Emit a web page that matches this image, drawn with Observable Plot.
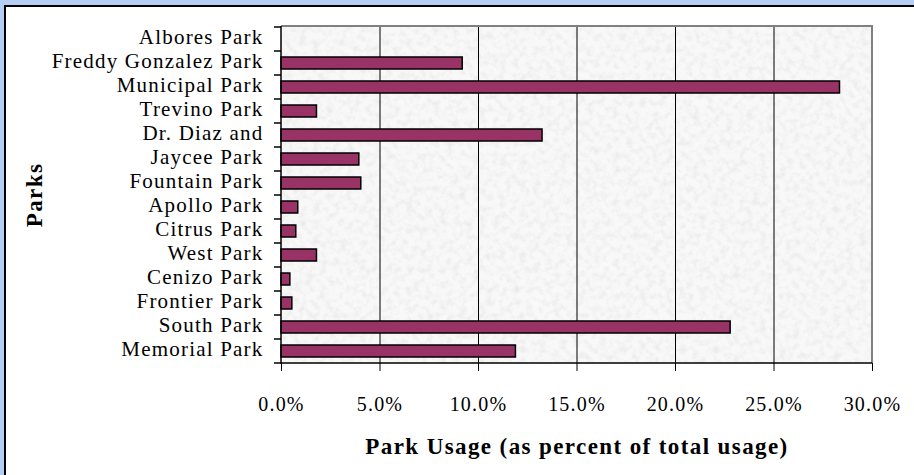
<!DOCTYPE html>
<html>
<head>
<meta charset="utf-8">
<script src="https://cdn.jsdelivr.net/npm/d3@7"></script>
<script src="https://cdn.jsdelivr.net/npm/@observablehq/plot@0.6"></script>
<style>
  html, body { margin: 0; padding: 0; background: #fff; }
  #wrap { position: relative; width: 914px; height: 475px; overflow: hidden; background: #b3cdf3; }
  #panel { position: absolute; left: 4px; top: 5px; width: 920px; height: 480px; background: #fff; border-left: 2px solid #000; border-top: 2px solid #000; }
  #chart { position: absolute; left: 0; top: 0; }
</style>
</head>
<body>
<div id="wrap"><div id="panel"></div><div id="chart"></div></div>
<script>
const parks = ["Albores Park", "Freddy Gonzalez Park", "Municipal Park", "Trevino Park", "Dr. Diaz and", "Jaycee Park", "Fountain Park", "Apollo Park", "Citrus Park", "West Park", "Cenizo Park", "Frontier Park", "South Park", "Memorial Park"];
const usage = [0, 9.2, 28.35, 1.8, 13.25, 3.95, 4.05, 0.85, 0.75, 1.8, 0.45, 0.55, 22.8, 11.9];
const xTicks = [0, 5, 10, 15, 20, 25, 30];
const xTitle = "Park Usage (as percent of total usage)";
const yTitle = "Parks";

const data = parks.map((p, i) => ({park: p, value: usage[i]}));
const serif = "'Liberation Serif', 'DejaVu Serif', serif";

const W = 914, H = 475, mL = 281, mR = 42, mT = 26, mB = 112;

const plot = Plot.plot({
  width: W, height: H,
  marginLeft: mL, marginRight: mR, marginTop: mT, marginBottom: mB,
  style: {background: "transparent", fontFamily: serif, fontSize: "20px", color: "#000", overflow: "visible"},
  x: {domain: [0, 30], label: null},
  y: {domain: parks, padding: 0, label: null},
  marks: [
    Plot.frame({fill: "#f8f8f8"}),
    Plot.gridX(xTicks.slice(1, -1), {stroke: "#000", strokeOpacity: 1, strokeWidth: 1}),
    Plot.barX(data, {x: "value", y: "park", fill: "#993366", stroke: "#000", strokeWidth: 1.5, insetTop: 6, insetBottom: 6}),
    Plot.axisY({tickSize: 0, tickPadding: 18, fontSize: 21, dy: -2}),
    Plot.axisX(xTicks, {tickSize: 8, tickPadding: 25, fontSize: 20, tickFormat: d => d.toFixed(1) + "%"}),
    Plot.text([xTitle], {frameAnchor: "bottom", dy: 83, fontSize: 23, fontWeight: "bold", lineAnchor: "middle", textAnchor: "middle"}),
    Plot.text([yTitle], {frameAnchor: "left", dx: -247, dy: 0, rotate: -90, fontSize: 23, fontWeight: "bold", lineAnchor: "middle", textAnchor: "middle"})
  ]
});

document.getElementById("chart").appendChild(plot);

const svg = d3.select(plot);
const ys = plot.scale("y");
const x0 = mL, x1 = W - mR, y0 = mT, y1 = H - mB;

// letter spacing like the reference's spaced serif type
svg.selectAll("text").style("letter-spacing", "1.2px");
svg.selectAll('g[aria-label="text"] text').style("letter-spacing", "1.4px");

// speckled paper texture
const defs = svg.insert("defs", ":first-child");
const f = defs.append("filter").attr("id", "noise").attr("x", 0).attr("y", 0).attr("width", 1).attr("height", 1);
f.append("feTurbulence").attr("type", "fractalNoise").attr("baseFrequency", 0.15).attr("numOctaves", 3).attr("seed", 7).attr("result", "t");
f.append("feColorMatrix").attr("in", "t").attr("type", "matrix")
  .attr("values", "0 0 0 0 0.6  0 0 0 0 0.6  0 0 0 0 0.6  1.0 0 0 0 -0.42");
const frameRect = svg.select("rect");
svg.insert("rect", function() { return frameRect.node().nextSibling; })
  .attr("x", x0).attr("y", y0).attr("width", x1 - x0).attr("height", y1 - y0)
  .attr("fill", "#fff").attr("filter", "url(#noise)").attr("opacity", 0.65);

const g = svg.append("g");
g.append("path").attr("d", `M${x0},${y0}H${x1}V${y1}`).attr("fill", "none").attr("stroke", "#808080").attr("stroke-width", 2);
g.append("path").attr("d", `M${x0},${y0}V${y1}H${x1}`).attr("fill", "none").attr("stroke", "#000").attr("stroke-width", 1.5);
const bw = ys.bandwidth;
const bounds = parks.map(p => ys.apply(p)).concat([ys.apply(parks[parks.length - 1]) + bw]);
g.selectAll("line.yt").data(bounds).join("line")
  .attr("x1", x0 - 7).attr("x2", x0).attr("y1", d => d).attr("y2", d => d)
  .attr("stroke", "#000").attr("stroke-width", 1.5);
</script>
</body>
</html>
